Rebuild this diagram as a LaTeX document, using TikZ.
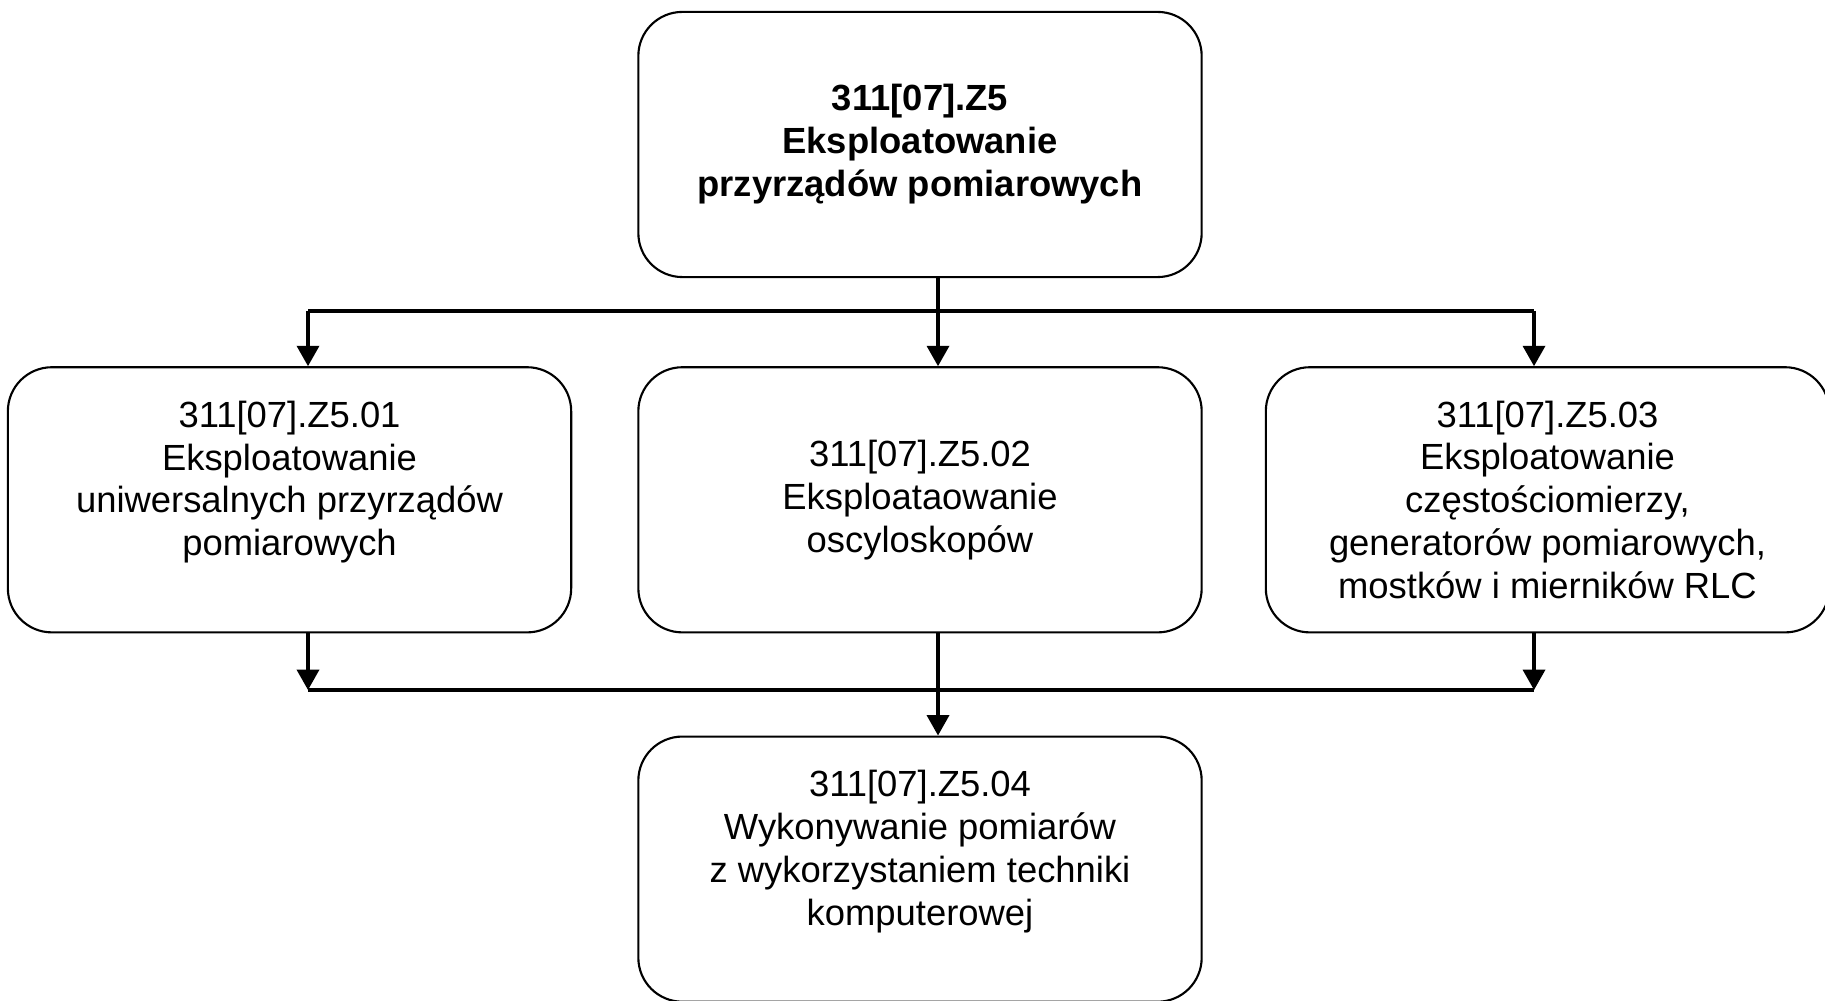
\documentclass[tikz,border=0pt]{standalone}
\usepackage{fontspec}
\setmainfont{Liberation Sans}
\usetikzlibrary{arrows.meta,positioning}
\tikzstyle{modul} = [draw, line width=0.6pt, rounded corners=0.44cm, minimum width=5.63cm, minimum height=2.65cm, inner sep=0pt, align=center, font=\fontsize{10.35}{12.2}\selectfont]
\tikzstyle{link} = [draw, line width=0.9pt, -{Triangle[length=5.8pt,width=6.3pt]}]

\begin{document}
\begin{tikzpicture}[x=0.01cm,y=-0.01cm]
        \useasboundingbox (0,0) rectangle (1825,1001);
        \node[modul, font=\fontsize{10.35}{12.2}\selectfont\bfseries] (z5) at (920,144.5) {311[07].Z5\\Eksploatowanie\\przyrządów pomiarowych};
        \node[modul, below=0.88cm of z5] (z502) {311[07].Z5.02\\Eksploataowanie\\oscyloskopów};
        \node[modul, left=0.65cm of z502] (z501) {311[07].Z5.01\\Eksploatowanie\\uniwersalnych przyrządów\\pomiarowych\\~};
        \node[modul, right=0.62cm of z502] (z503) {311[07].Z5.03\\Eksploatowanie\\częstościomierzy,\\generatorów pomiarowych,\\mostków i mierników RLC};
        \node[modul, below=1.02cm of z502] (z504) {311[07].Z5.04\\Wykonywanie pomiarów\\z wykorzystaniem techniki\\komputerowej\\~};

        % rozgalezienie
        \coordinate (a1) at (308,311);
        \coordinate (a2) at (938,311);
        \coordinate (a3) at (1534,311);
        \draw[line width=0.9pt] (a2 |- z5.south) -- (a2);
        \draw[line width=0.9pt] (a1) -- (a3);
        \draw[link] (a1) -- (a1 |- z501.north);
        \draw[link] (a2) -- (a2 |- z502.north);
        \draw[link] (a3) -- (a3 |- z503.north);

        % zbieranie
        \coordinate (b1) at (308,690);
        \coordinate (b3) at (1534,690);
        \draw[link] (b1 |- z501.south) -- (b1);
        \draw[link] (b3 |- z503.south) -- (b3);
        \draw[line width=1.15pt] (b1) -- (b3);
        \draw[link] (a2 |- z502.south) -- (a2 |- z504.north);
\end{tikzpicture}
\end{document}
